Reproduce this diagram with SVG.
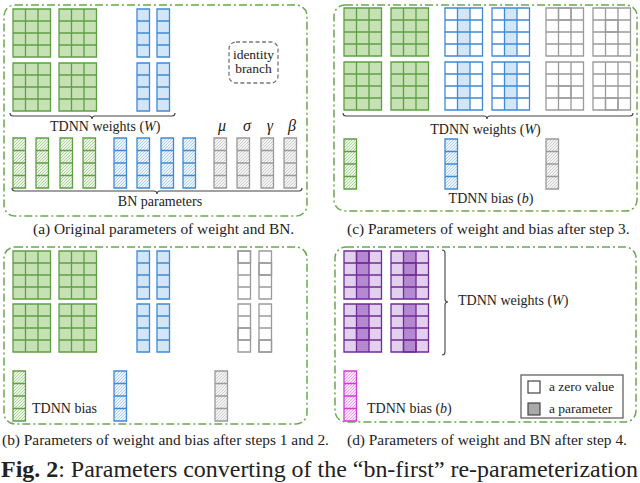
<svg xmlns="http://www.w3.org/2000/svg" xmlns:xlink="http://www.w3.org/1999/xlink" width="640" height="483" viewBox="0 0 640 483">
<style>
text{font-family:"Liberation Serif","Times New Roman",serif;fill:#222}
.t14{font-size:14px}
.t13{font-size:13.5px}
.cap{font-size:15.4px}
.it{font-style:italic}
.panel{fill:none;stroke:#6aa84f;stroke-width:1.5;stroke-dasharray:8 3 2 3}
.brace{fill:none;stroke:#444;stroke-width:1.1}
.gs{fill:none;stroke:#5f9e45;stroke-width:1.3}
.bs{fill:none;stroke:#3f8ad6;stroke-width:1.3}
.xs{fill:none;stroke:#9a9a9a;stroke-width:1.3}
.ps{fill:none;stroke:#6f2c96;stroke-width:1.3}
.ms{fill:none;stroke:#d13bd6;stroke-width:1.3}
</style>
<defs>
<pattern id="hG" patternUnits="userSpaceOnUse" width="3" height="3"><rect width="3" height="3" fill="#eef6e8"/><path d="M-1 1L1 -1M0 3L3 0M2 4L4 2" stroke="#9cc886" stroke-width="0.8"/></pattern>
<pattern id="hB" patternUnits="userSpaceOnUse" width="3" height="3"><rect width="3" height="3" fill="#eef5fc"/><path d="M-1 1L1 -1M0 3L3 0M2 4L4 2" stroke="#9cc4ea" stroke-width="0.8"/></pattern>
<pattern id="hX" patternUnits="userSpaceOnUse" width="3" height="3"><rect width="3" height="3" fill="#f4f4f4"/><path d="M-1 1L1 -1M0 3L3 0M2 4L4 2" stroke="#c4c4c4" stroke-width="0.8"/></pattern>
<pattern id="hM" patternUnits="userSpaceOnUse" width="3" height="3"><rect width="3" height="3" fill="#fbe8fb"/><path d="M-1 1L1 -1M0 3L3 0M2 4L4 2" stroke="#e88ae8" stroke-width="0.8"/></pattern>
<g id="gg"><rect width="37.5" height="48" fill="#c6e2b5"/><path class="gs" d="M0 0H37.5V48H0ZM12.5 0V48M25 0V48M0 12H37.5M0 24H37.5M0 36H37.5"/></g>
<g id="bc"><rect width="12.5" height="48" fill="#d3e6f7"/><path class="bs" d="M0 0H12.5V48H0ZM0 12H12.5M0 24H12.5M0 36H12.5"/></g>
<g id="xc"><rect width="12.5" height="48" fill="#fff"/><path class="xs" d="M0 0H12.5V48H0ZM0 12H12.5M0 24H12.5M0 36H12.5"/></g>
<g id="bg"><rect width="37.5" height="48" fill="#fff"/><rect x="12.5" width="12.5" height="48" fill="#d3e6f7"/><path class="bs" d="M0 0H37.5V48H0ZM12.5 0V48M25 0V48M0 12H37.5M0 24H37.5M0 36H37.5"/></g>
<g id="xg"><rect width="37.5" height="48" fill="#fff"/><path class="xs" d="M0 0H37.5V48H0ZM12.5 0V48M25 0V48M0 12H37.5M0 24H37.5M0 36H37.5"/></g>
<g id="pg"><rect width="37.5" height="48" fill="#e2d0ee"/><rect x="12.5" width="12.5" height="48" fill="#b588d2"/><path class="ps" d="M0 0H37.5V48H0ZM12.5 0V48M25 0V48M0 12H37.5M0 24H37.5M0 36H37.5"/></g>
<g id="hgc"><rect width="12.5" height="50" fill="url(#hG)"/><path class="gs" d="M0 0H12.5V50H0ZM0 12.5H12.5M0 25H12.5M0 37.5H12.5"/></g>
<g id="hbc"><rect width="12.5" height="50" fill="url(#hB)"/><path class="bs" d="M0 0H12.5V50H0ZM0 12.5H12.5M0 25H12.5M0 37.5H12.5"/></g>
<g id="hxc"><rect width="12.5" height="50" fill="url(#hX)"/><path class="xs" d="M0 0H12.5V50H0ZM0 12.5H12.5M0 25H12.5M0 37.5H12.5"/></g>
<g id="hmc"><rect width="12.5" height="50" fill="url(#hM)"/><path class="ms" d="M0 0H12.5V50H0ZM0 12.5H12.5M0 25H12.5M0 37.5H12.5"/></g>
</defs>
<rect width="640" height="483" fill="#fff"/>

<!-- panel frames -->
<g id="frames">
<rect class="panel" x="4" y="5" width="303" height="211" rx="11"/>
<rect class="panel" x="334" y="5" width="303" height="206" rx="11"/>
<rect class="panel" x="4" y="247" width="303" height="177" rx="11"/>
<rect class="panel" x="335" y="247" width="301" height="175" rx="11"/>
</g>

<!-- panel (a) -->
<g id="panel-a">
<use href="#gg" x="13" y="9"/><use href="#gg" x="59" y="9"/>
<use href="#gg" x="13" y="63"/><use href="#gg" x="59" y="63"/>
<use href="#bc" x="137" y="9"/><use href="#bc" x="157" y="9"/>
<use href="#bc" x="137" y="63"/><use href="#bc" x="157" y="63"/>
<g id="identity-branch">
<rect x="229" y="42" width="49" height="41" rx="7" fill="none" stroke="#777" stroke-width="1.3" stroke-dasharray="4 2.5"/>
<text class="t13" x="253.5" y="59" text-anchor="middle">identity</text>
<text class="t13" x="253.5" y="73" text-anchor="middle">branch</text>
</g>
<text class="t14" x="50" y="131">TDNN weights (<tspan class="it">W</tspan>)</text>
<text class="it" font-size="16" x="222" y="131" text-anchor="middle">μ</text>
<text class="it" font-size="16" x="247" y="131" text-anchor="middle">σ</text>
<text class="it" font-size="16" x="270" y="131" text-anchor="middle">γ</text>
<text class="it" font-size="16" x="292" y="131" text-anchor="middle">β</text>
<use href="#hgc" x="13" y="138"/><use href="#hgc" x="36" y="138"/><use href="#hgc" x="60" y="138"/><use href="#hgc" x="83" y="138"/>
<use href="#hbc" x="114" y="138"/><use href="#hbc" x="137" y="138"/><use href="#hbc" x="161" y="138"/><use href="#hbc" x="183" y="138"/>
<use href="#hxc" x="214" y="138"/><use href="#hxc" x="237" y="138"/><use href="#hxc" x="261" y="138"/><use href="#hxc" x="284" y="138"/>
<text class="t14" x="160" y="206" text-anchor="middle">BN parameters</text>
</g>

<!-- panel (c) -->
<g id="panel-c">
<use href="#gg" x="344" y="8"/><use href="#gg" x="391" y="8"/>
<use href="#gg" x="344" y="62"/><use href="#gg" x="391" y="62"/>
<use href="#bg" x="445" y="8"/><use href="#bg" x="492" y="8"/>
<use href="#bg" x="445" y="62"/><use href="#bg" x="492" y="62"/>
<use href="#xg" x="546" y="8"/><use href="#xg" x="593" y="8"/>
<use href="#xg" x="546" y="62"/><use href="#xg" x="593" y="62"/>
<rect x="558.5" y="8" width="12.5" height="12" fill="#e2e2e2" class="xs"/>
<rect x="605.5" y="20" width="12.5" height="12" fill="#e2e2e2" class="xs"/>
<rect x="558.5" y="86" width="12.5" height="12" fill="#e2e2e2" class="xs"/>
<rect x="605.5" y="98" width="12.5" height="12" fill="#e2e2e2" class="xs"/>
<text class="t14" x="485.5" y="134" text-anchor="middle">TDNN weights (<tspan class="it">W</tspan>)</text>
<use href="#hgc" x="344" y="139"/><use href="#hbc" x="445" y="139"/><use href="#hxc" x="546" y="139"/>
<text class="t14" x="491" y="203" text-anchor="middle">TDNN bias (<tspan class="it">b</tspan>)</text>
</g>

<!-- panel (b) -->
<g id="panel-b">
<use href="#gg" x="13" y="251"/><use href="#gg" x="59" y="251"/>
<use href="#gg" x="13" y="304"/><use href="#gg" x="59" y="304"/>
<use href="#bc" x="137" y="251"/><use href="#bc" x="157" y="251"/>
<use href="#bc" x="137" y="304"/><use href="#bc" x="157" y="304"/>
<use href="#xc" x="238" y="251"/><use href="#xc" x="259" y="251"/>
<use href="#xc" x="238" y="304"/><use href="#xc" x="259" y="304"/>
<rect x="238" y="251" width="12.5" height="12" fill="#e2e2e2" class="xs"/>
<rect x="259" y="263" width="12.5" height="12" fill="#e2e2e2" class="xs"/>
<rect x="238" y="328" width="12.5" height="12" fill="#e2e2e2" class="xs"/>
<rect x="259" y="340" width="12.5" height="12" fill="#e2e2e2" class="xs"/>
<use href="#hgc" x="13" y="371"/><use href="#hbc" x="114" y="371"/><use href="#hxc" x="215" y="371"/>
<text class="t14" x="32" y="413">TDNN bias</text>
</g>

<!-- panel (d) -->
<g id="panel-d">
<use href="#pg" x="344" y="251"/><use href="#pg" x="391" y="251"/>
<use href="#pg" x="344" y="304"/><use href="#pg" x="391" y="304"/>
<rect x="356.5" y="251" width="12.5" height="12" fill="#8b3ab8" class="ps"/>
<rect x="403.5" y="263" width="12.5" height="12" fill="#8b3ab8" class="ps"/>
<rect x="356.5" y="328" width="12.5" height="12" fill="#8b3ab8" class="ps"/>
<rect x="403.5" y="340" width="12.5" height="12" fill="#8b3ab8" class="ps"/>
<text class="t14" x="458" y="305">TDNN weights (<tspan class="it">W</tspan>)</text>
<use href="#hmc" x="344" y="371"/>
<text class="t14" x="367" y="413">TDNN bias (<tspan class="it">b</tspan>)</text>
<g id="legend">
<rect x="521" y="375" width="102" height="43" fill="#fff" stroke="#555" stroke-width="1.2"/>
<rect x="528" y="381" width="12" height="12" fill="#fff" stroke="#444" stroke-width="1.2"/>
<rect x="528" y="403" width="12" height="12" fill="#a9a9a9" stroke="#444" stroke-width="1.2"/>
<text class="t13" x="549" y="391">a zero value</text>
<text class="t13" x="549" y="413">a parameter</text>
</g>
</g>

<!-- braces -->
<g id="connectors">
<path class="brace" d="M10 113q0 3 3 3H89q3 0 3 3q0-3 3-3H172q3 0 3-3"/>
<path class="brace" d="M12 188q0 3 3 3H154q3 0 3 3q0-3 3-3H299q3 0 3-3"/>
<path class="brace" d="M343 113q0 3 3 3H484q3 0 3 3q0-3 3-3H630q3 0 3-3"/>
<path class="brace" d="M442 250q3 0 3 3V299q0 3 3 3q-3 0-3 3V352q0 3-3 3"/>
</g>

<!-- captions -->
<g id="captions">
<text class="cap" x="33" y="234">(a) Original parameters of weight and BN.</text>
<text class="cap" x="347" y="234">(c) Parameters of weight and bias after step 3.</text>
<text class="cap" x="2" y="445">(b) Parameters of weight and bias after steps 1 and 2.</text>
<text class="cap" x="347" y="445">(d) Parameters of weight and BN after step 4.</text>
<text font-size="23" x="1" y="477" textLength="637" lengthAdjust="spacingAndGlyphs"><tspan font-weight="bold">Fig. 2</tspan>:  Parameters converting of the “bn-first” re-parameterization</text>
</g>
</svg>
